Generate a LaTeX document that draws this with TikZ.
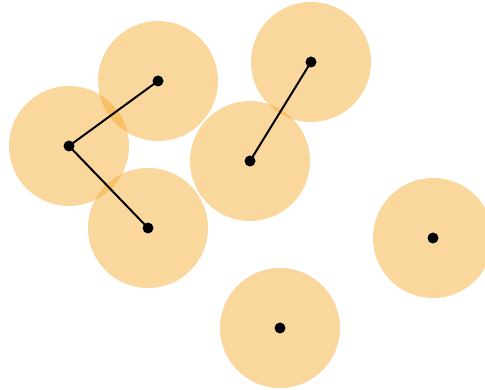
\documentclass[tikz,border=0pt]{standalone}
\begin{document}
\begin{tikzpicture}[x=1pt,y=-1pt,
  disk/.style={circle,minimum size=120pt,inner sep=0pt,fill={rgb,255:red,245;green,166;blue,35},fill opacity=0.45,draw=none},
  pt/.style={circle,minimum size=11pt,inner sep=0pt,fill=black},
  link/.style={line width=2pt,black}]
\useasboundingbox (0,0) rectangle (485,390);
% sample points
\coordinate (p1) at (158,81);
\coordinate (p2) at (69,146);
\coordinate (p3) at (148,228);
\coordinate (p4) at (250,161);
\coordinate (p5) at (311,62);
\coordinate (p6) at (433,238);
\coordinate (p7) at (280,328);
% neighbourhood disks
\foreach \i in {1,...,7} \node[disk] (d\i) at (p\i) {};
% neighbour links
\draw[link] (d2.center) -- (d1.center);
\draw[link] (d2.center) -- (d3.center);
\draw[link] (d4.center) -- (d5.center);
% centres
\foreach \i in {1,...,7} \node[pt] (c\i) at (p\i) {};
\end{tikzpicture}
\end{document}
